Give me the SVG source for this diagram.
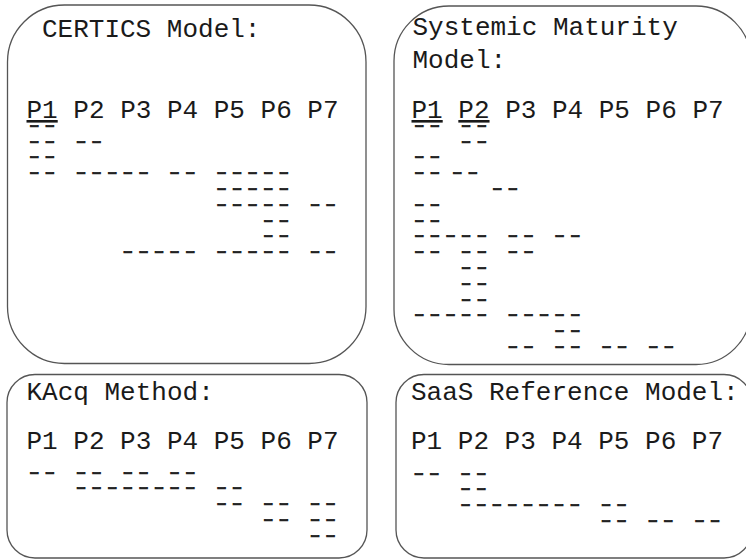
<svg xmlns="http://www.w3.org/2000/svg" width="746" height="560" viewBox="0 0 746 560">
<style>
.box{fill:#fff;stroke:#555;stroke-width:1.3}
.t{font-family:"Courier New","Liberation Mono",monospace;font-size:26px;fill:#1a1a1a;white-space:pre}
.d{font-family:"Courier New","Liberation Mono",monospace;font-size:13px;font-weight:bold;fill:#222;stroke:#222;stroke-width:0.7;white-space:pre}
</style>
<rect width="746" height="560" fill="#fff"/>
<g id="certics">
<rect class="box" x="7.5" y="5" width="358.5" height="358.5" rx="57" ry="57"/>
<text class="t" x="42" y="37">CERTICS Model:</text>
<text class="t" x="26.5" y="118" xml:space="preserve"><tspan text-decoration="underline">P1</tspan> P2 P3 P4 P5 P6 P7</text>
<text class="d" transform="scale(2,1)" xml:space="preserve"><tspan x="13.25" y="129.9">--</tspan><tspan x="13.25" y="145.7">-- --</tspan><tspan x="13.25" y="161.5">--</tspan><tspan x="13.25" y="177.3">-- ----- -- -----</tspan><tspan x="13.25" y="193.1">            -----</tspan><tspan x="13.25" y="208.9">            ----- --</tspan><tspan x="13.25" y="224.7">               --</tspan><tspan x="13.25" y="240.5">               --</tspan><tspan x="13.25" y="256.3">      ----- ----- --</tspan></text>
</g>
<g id="systemic">
<rect class="box" x="394" y="6" width="357" height="358.5" rx="55" ry="55"/>
<text class="t" x="412.5" y="35">Systemic Maturity</text>
<text class="t" x="412.5" y="68">Model:</text>
<text class="t" x="411.5" y="118" xml:space="preserve"><tspan text-decoration="underline">P1</tspan> <tspan text-decoration="underline">P2</tspan> P3 P4 P5 P6 P7</text>
<text class="d" transform="scale(2,1)" xml:space="preserve"><tspan x="205.75" y="129.9">-- --</tspan><tspan x="205.75" y="145.7">   --</tspan><tspan x="205.75" y="161.5">--</tspan><tspan x="205.75" y="177.3">--</tspan><tspan x="224.75" y="177.3">--</tspan><tspan x="205.75" y="193.1">     --</tspan><tspan x="205.75" y="208.9">--</tspan><tspan x="205.75" y="224.7">--</tspan><tspan x="205.75" y="240.5">----- -- --</tspan><tspan x="205.75" y="256.3">-- -- --</tspan><tspan x="205.75" y="272.1">   --</tspan><tspan x="205.75" y="287.9">   --</tspan><tspan x="205.75" y="303.7">   --</tspan><tspan x="205.75" y="319.5">----- -----</tspan><tspan x="205.75" y="335.3">         --</tspan><tspan x="205.75" y="351.3">      -- -- -- --</tspan></text>
</g>
<g id="kacq">
<rect class="box" x="7" y="374.5" width="360" height="183.5" rx="28" ry="28"/>
<text class="t" x="26.5" y="400">KAcq Method:</text>
<text class="t" x="26.5" y="449">P1 P2 P3 P4 P5 P6 P7</text>
<text class="d" transform="scale(2,1)" xml:space="preserve"><tspan x="13.25" y="476.7">-- -- -- --</tspan><tspan x="13.25" y="492.5">   -------- --</tspan><tspan x="13.25" y="508.3">            -- -- --</tspan><tspan x="13.25" y="524.1">               -- --</tspan><tspan x="13.25" y="539.9">                  --</tspan></text>
</g>
<g id="saas">
<rect class="box" x="396" y="374.5" width="356" height="183.5" rx="28" ry="28"/>
<text class="t" x="411" y="400">SaaS Reference Model:</text>
<text class="t" x="411" y="449">P1 P2 P3 P4 P5 P6 P7</text>
<text class="d" transform="scale(2,1)" xml:space="preserve"><tspan x="205.5" y="477.7">-- --</tspan><tspan x="205.5" y="493">   --</tspan><tspan x="205.5" y="508.8">   -------- --</tspan><tspan x="205.5" y="525.3">            -- -- --</tspan></text>
</g>
<g id="connectors"/>
</svg>
